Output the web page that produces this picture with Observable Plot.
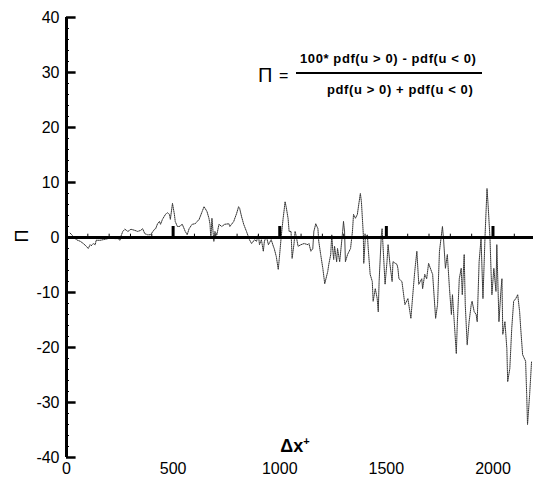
<!DOCTYPE html>
<html>
<head>
<meta charset="utf-8">
<script src="https://cdn.jsdelivr.net/npm/d3@7"></script>
<script src="https://cdn.jsdelivr.net/npm/@observablehq/plot@0.6"></script>
<style>
  html, body { margin: 0; padding: 0; background: white; }
  #chart { width: 533px; height: 477px; overflow: hidden; }
</style>
</head>
<body>
<div id="chart"></div>
<script>
// Δx+ positions and Π values
const deltaX = [17,32,46,65,79,93,102,111,116,125,135,139,158,172,195,209,227,241,251,255,264,274,288,302,320,334,348,357,367,380,394,413,418,427,436,441,450,464,473,483,487,497,506,510,520,
  529,543,557,566,575,589,603,622,636,645,650,659,668,673,677,682,691,696,705,715,728,742,761,766,784,798,807,812,821,831,844,858,868,882,891,900,905,914,923,928,937,947,960,970,974,984,993,998,1007,1016,1021,1025,1030,1039,1044,
  1053,1058,1067,1072,1076,1086,1100,1114,1132,1137,1146,1155,1160,1169,1179,1183,1192,1202,1211,1225,1230,1239,1244,1248,1253,1257,1267,1271,1281,1285,1295,1299,1304,1308,1318,1332,1341,1346,1355,1364,1369,1378,1383,1392,1394,1401,1411,1415,1424,1434,1438,1448,1457,1462,1466,1476,1480,1485,1494,1503,1508,1517,1527,1531,1550,1554,1559,
  1573,1587,1601,1615,1624,1633,1643,1652,1666,1670,1680,1689,1698,1712,1717,1731,1740,1749,1763,1768,1777,1786,1796,1805,1810,1828,1833,1842,1851,1856,1865,1870,1879,1888,1898,1902,1912,1921,1926,1935,1944,1953,1963,1972,1977,1986,1991,1995,2004,2014,2018,2028,2037,2042,2046,2056,2065,2069,2079,2088,2097,2107,2116,2125,2130,2139,2153,2158,2162,2172,2181];
const piValues = [0.8,0.2,-0.4,-0.7,-1.1,-1.6,-2.0,-1.3,-1.5,-1.1,-1.3,-0.5,-0.5,-0.4,-0.2,0.2,-0.2,-0.2,-0.5,0.2,1.1,1.5,1.1,1.5,1.3,1.1,1.3,1.6,0.7,0.5,0.5,1.5,1.6,2.5,2.9,2.4,3.3,4.2,4.5,4.2,3.3,6.2,4.2,2.9,2.0,
  2.0,2.4,1.1,0.5,1.6,2.4,2.5,3.3,4.7,5.6,5.3,4.7,3.5,2.4,-0.2,3.5,-0.7,1.1,0.5,2.4,2.0,2.4,2.5,2.0,2.9,4.4,5.6,5.3,3.8,2.4,1.1,-0.4,-1.1,-0.4,-0.7,0.5,-1.3,-0.4,-2.5,-0.7,0.2,-1.3,-0.4,-1.6,-2.0,-3.5,-5.8,-3.8,0.2,3.5,5.1,6.5,5.6,3.5,1.1,
  1.1,-3.8,-1.1,1.1,0.5,-1.6,-1.3,-1.1,-1.3,-1.1,-2.5,-2.0,1.1,2.5,1.6,-0.7,-3.1,-5.6,-8.4,-6.2,-4.9,-3.1,0.5,-2.0,-4.0,-1.6,-4.4,-2.0,-4.4,-2.9,1.1,2.9,1.1,-4.4,-3.1,-2.0,1.1,4.2,3.5,4.2,5.6,8.0,6.5,0.5,-4.7,-0.2,0.5,-2.0,-6.7,-8.0,-11.6,-9.3,-11.1,-13.5,-8.0,0.2,1.6,-2.0,-8.5,-4.4,-1.3,-4.9,-8.0,-4.4,-4.9,-5.6,-7.5,
  -8.0,-12.2,-11.1,-14.7,-10.4,-6.2,-2.5,-8.5,-7.5,-9.3,-6.7,-7.5,-4.7,-6.2,-6.7,-14.7,-12.2,-2.5,2.0,-0.2,-5.6,-3.1,-9.3,-14.0,-10.4,-21.1,-15.3,-7.5,-5.6,-10.4,-3.1,-12.2,-19.5,-15.3,-12.2,-11.6,-13.5,-14.0,-15.3,-4.4,-0.2,-11.1,0.5,8.9,6.0,-0.2,-6.2,-10.4,-5.6,-9.8,-1.3,-15.3,-9.8,-7.5,-17.6,-15.3,-20.2,-26.2,-23.8,-16.5,-11.6,-11.1,-10.4,-13.5,-16.5,-21.3,-22.5,-28.5,-34.0,-28.5,-22.5];

const xTicks = [0, 500, 1000, 1500, 2000];
const xMinor = [100,200,300,400,600,700,800,900,1100,1200,1300,1400,1600,1700,1800,1900,2100];
const yTicks = [-40, -30, -20, -10, 0, 10, 20, 30, 40];
const yMinor = d3.range(-38, 40, 2).filter(v => v % 10 !== 0);

const data = deltaX.map((x, i) => ({x, y: piValues[i]}));

const chart = Plot.plot({
  width: 533,
  height: 477,
  marginLeft: 66,
  marginRight: 0,
  marginTop: 17,
  marginBottom: 20,
  x: {domain: [0, 2190]},
  y: {domain: [-40, 40]},
  style: {fontFamily: "'Liberation Sans', Arial, sans-serif", fontSize: "16px", background: "white", color: "black"},
  marks: [
    Plot.line(data, {x: "x", y: "y", stroke: "#333", strokeWidth: 1, strokeDasharray: "1,1"}),
    Plot.ruleY([0], {stroke: "black", strokeWidth: 3}),
    Plot.ruleX(xMinor, {y1: 0, y2: 0.6, stroke: "black", strokeWidth: 1}),
    Plot.ruleX(xTicks.slice(1), {y1: 0, y2: 2, stroke: "black", strokeWidth: 3}),
    Plot.ruleX([0], {y1: -40, y2: 40, stroke: "black", strokeWidth: 3}),
    Plot.ruleY(yTicks, {x1: 0, x2: 45, stroke: "black", strokeWidth: 2.5}),
    Plot.ruleY(yMinor, {x1: 0, x2: 14, stroke: "black", strokeWidth: 1}),
    Plot.axisY({ticks: yTicks, tickSize: 0, tickPadding: 7, tickFormat: d => String(d), label: null}),
    Plot.axisX({ticks: xTicks, tickSize: 0, tickPadding: 5, tickFormat: d => String(d), label: null})
  ]
});

document.getElementById("chart").appendChild(chart);

const svg = d3.select(chart);
const ff = "'Liberation Sans', Arial, sans-serif";
// y axis title
svg.append("text").attr("transform", "translate(28,236) rotate(-90)")
  .attr("text-anchor", "middle").attr("font-family", ff).attr("font-size", 18).text("Π");
// x axis title
const xt = svg.append("text").attr("x", 295).attr("y", 452).attr("text-anchor", "middle")
  .attr("font-family", ff).attr("font-size", 18).attr("font-weight", "bold");
xt.append("tspan").text("Δx");
xt.append("tspan").attr("dy", -7).attr("font-size", 11).text("+");
// formula
svg.append("text").attr("x", 258).attr("y", 82).attr("text-anchor", "start").attr("font-family", ff).attr("font-size", 20).text("Π");
svg.append("text").attr("x", 279).attr("y", 81).attr("text-anchor", "start").attr("font-family", ff).attr("font-size", 16).text("=");
svg.append("text").attr("x", 300).attr("y", 63).attr("text-anchor", "start").attr("font-family", ff).attr("font-size", 13).attr("font-weight", "bold")
  .attr("letter-spacing", 0.6).text("100* pdf(u > 0) - pdf(u < 0)");
svg.append("line").attr("x1", 296).attr("x2", 482).attr("y1", 73).attr("y2", 73).attr("stroke", "black").attr("stroke-width", 2);
svg.append("text").attr("x", 327).attr("y", 94).attr("text-anchor", "start").attr("font-family", ff).attr("font-size", 13).attr("font-weight", "bold")
  .attr("letter-spacing", 0.6).text("pdf(u > 0) + pdf(u < 0)");
</script>
</body>
</html>
